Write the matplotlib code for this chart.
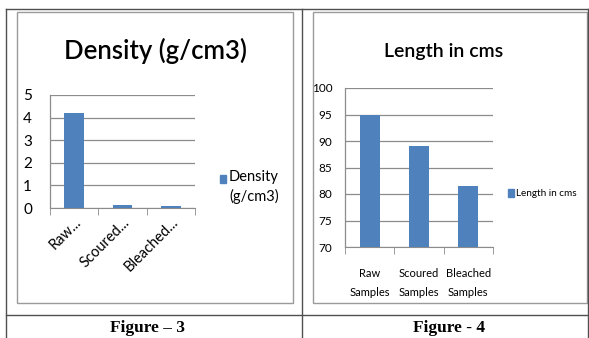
import matplotlib
matplotlib.use("Agg")
import matplotlib.pyplot as plt
from matplotlib.lines import Line2D
from matplotlib.patches import Rectangle

# ---- data ----
density_categories = ["Raw...", "Scoured...", "Bleached..."]
density_values = [4.2, 0.15, 0.1]
density_yticks = [0, 1, 2, 3, 4, 5]

length_categories = ["Raw\nSamples", "Scoured\nSamples", "Bleached\nSamples"]
length_values = [95, 89, 81.5]
length_yticks = [70, 75, 80, 85, 90, 95, 100]

BAR = "#4F81BD"
GRID = "#8C8C8C"
W, H = 589, 338
plt.rcParams['font.family'] = ['Lato', 'DejaVu Sans']

fig = plt.figure(figsize=(W / 100, H / 100), dpi=100)
fig.patch.set_facecolor("white")


def rect(x0, y0, x1, y1):
    return [x0 / W, 1 - y1 / H, (x1 - x0) / W, (y1 - y0) / H]


def fx(x):
    return x / W


def fy(y):
    return 1 - y / H


# table lines
for (xa, ya, xb, yb) in [(6, 9, 589, 9), (6, 9, 6, 338), (302, 9, 302, 338),
                         (6, 315, 589, 315), (588, 9, 588, 338)]:
    fig.add_artist(Line2D([fx(xa), fx(xb)], [fy(ya), fy(yb)], color="#505050", lw=1.0))

# chart frames
for (x0, y0, x1, y1) in [(17, 12, 293, 303), (313, 12, 587, 303)]:
    fig.add_artist(Rectangle((fx(x0), fy(y1)), (x1 - x0) / W, (y1 - y0) / H,
                             fill=False, edgecolor="#9A9A9A", lw=1.0))


def style(ax):
    for s in ["top", "right", "left"]:
        ax.spines[s].set_visible(False)
    ax.spines["bottom"].set_color(GRID)
    ax.grid(axis="y", color=GRID, lw=0.9)
    ax.set_axisbelow(True)
    ax.tick_params(axis="y", length=0)
    ax.tick_params(axis="x", length=0)
    ax.set_facecolor("none")


# ---- left chart ----
ax1 = fig.add_axes(rect(50, 95, 195, 208))
x1 = range(len(density_values))
ax1.bar(x1, density_values, width=0.4, color=BAR, zorder=3)
ax1.set_xlim(-0.5, len(density_values) - 0.5)
ax1.set_ylim(0, 5)
ax1.set_yticks(density_yticks)
style(ax1)
ax1.tick_params(axis="y", pad=13)
ax1.set_xticks([i + 0.5 for i in range(-1, len(density_values))], minor=True)
ax1.tick_params(axis="x", which="minor", length=5, color=GRID)
ax1.plot([-0.5, -0.5], [0, 5], color=GRID, lw=0.9, clip_on=False)
ax1.set_xticks(list(x1))
ax1.set_xticklabels(density_categories, rotation=45, ha="right", rotation_mode="anchor",
                    fontsize=10.5)
ax1.tick_params(axis="x", which="major", pad=5)
for t in ax1.get_yticklabels():
    t.set_fontsize(11)
fig.text(fx(155), fy(51), "Density (g/cm3)", fontsize=18.5, ha="center", va="center",
         fontweight="semibold")
fig.add_artist(Rectangle((fx(220), fy(183)), 6 / W, 8 / H, color=BAR))
fig.text(fx(229), fy(187), "Density\n(g/cm3)", fontsize=10.5, ha="left", va="center",
         linespacing=1.35)

# ---- right chart ----
ax2 = fig.add_axes(rect(345, 88, 493, 247))
x2 = range(len(length_values))
ax2.bar(x2, length_values, width=0.41, color=BAR, zorder=3)
ax2.set_xlim(-0.5, len(length_values) - 0.5)
ax2.set_ylim(70, 100)
ax2.set_yticks(length_yticks)
style(ax2)
ax2.tick_params(axis="y", pad=9)
ax2.set_xticks([i + 0.5 for i in range(-1, len(length_values))], minor=True)
ax2.tick_params(axis="x", which="minor", length=5, color=GRID)
ax2.plot([-0.5, -0.5], [70, 100], color=GRID, lw=0.9, clip_on=False)
ax2.set_xticks(list(x2))
ax2.set_xticklabels(length_categories, fontsize=8, linespacing=1.9)
ax2.tick_params(axis="x", which="major", pad=15)
for t in ax2.get_yticklabels():
    t.set_fontsize(8.5)
fig.text(fx(444), fy(52), "Length in cms", fontsize=14, ha="center", va="center",
         fontweight="semibold")
fig.add_artist(Rectangle((fx(508), fy(197)), 6 / W, 8 / H, color=BAR))
fig.text(fx(516), fy(193), "Length in cms", fontsize=7.2, ha="left", va="center")

# captions
fig.text(fx(148), fy(328), "Figure \u2013 3", fontsize=12.5, ha="center", va="center",
         family=['Liberation Serif'], fontweight="bold")
fig.text(fx(449), fy(328), "Figure - 4", fontsize=12.5, ha="center", va="center",
         family=['Liberation Serif'], fontweight="bold")

fig.savefig("out.png", dpi=100)
